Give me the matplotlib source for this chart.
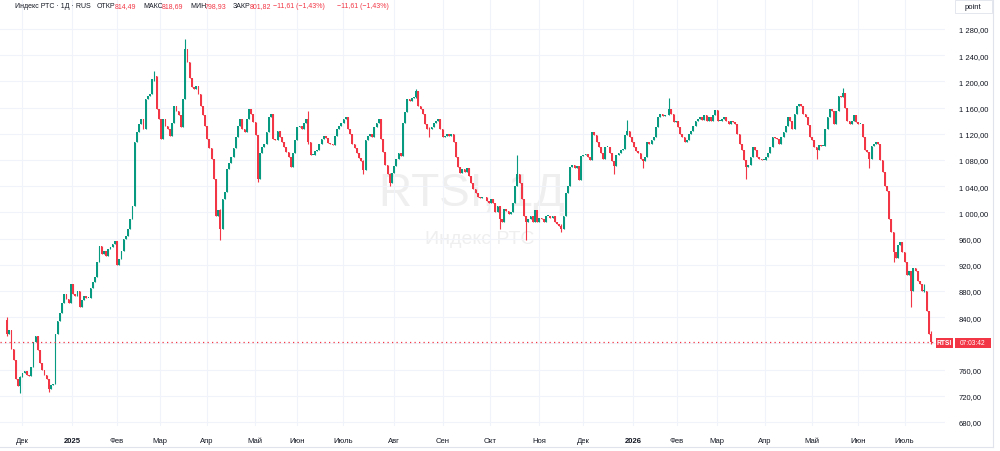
import numpy as np
import matplotlib.pyplot as plt
from matplotlib.patches import Rectangle

plt.rcParams['font.family'] = ['Liberation Sans', 'DejaVu Sans']

# daily closes of the RTS index (one per trading day)
first_open = 835
closes = [
    815, 820, 792, 775, 745, 735, 748, 755, 758, 752,
    750, 764, 802, 812, 790, 770, 760, 752, 745, 731,
    736, 738, 814, 834, 847, 862, 875, 868, 862, 890,
    876, 873, 880, 856, 866, 873, 870, 870, 885, 893,
    901, 924, 949, 936, 941, 934, 944, 947, 952, 957,
    920, 929, 941, 959, 964, 975, 990, 1010, 1107, 1122,
    1135, 1142, 1127, 1173, 1178, 1181, 1204, 1209, 1158, 1143,
    1112, 1143, 1132, 1127, 1117, 1137, 1163, 1155, 1148, 1130,
    1173, 1250, 1229, 1205, 1191, 1188, 1193, 1181, 1163, 1148,
    1132, 1112, 1099, 1081, 1051, 995, 1003, 975, 1020, 1031,
    1066, 1076, 1084, 1099, 1115, 1132, 1143, 1127, 1122, 1143,
    1158, 1150, 1138, 1118, 1051, 1090, 1100, 1105, 1122, 1145,
    1150, 1112, 1110, 1125, 1115, 1108, 1100, 1092, 1085, 1070,
    1090, 1110, 1130, 1132, 1128, 1137, 1142, 1107, 1088, 1088,
    1094, 1096, 1105, 1112, 1117, 1114, 1106, 1105, 1103, 1117,
    1127, 1132, 1137, 1143, 1145, 1128, 1120, 1105, 1098, 1090,
    1083, 1078, 1065, 1111, 1117, 1120, 1115, 1130, 1137, 1142,
    1112, 1092, 1072, 1058, 1045, 1060, 1071, 1081, 1091, 1086,
    1137, 1153, 1173, 1170, 1175, 1176, 1185, 1163, 1158, 1150,
    1135, 1128, 1127, 1130, 1137, 1140, 1143, 1127, 1115, 1117,
    1120, 1117, 1120, 1107, 1085, 1070, 1060, 1066, 1062, 1068,
    1055, 1045, 1035, 1030, 1024, 1022, 1023, 1024, 1018, 1015,
    1020, 1015, 1000, 1010, 990, 985, 1005, 1002, 998, 1000,
    1015, 1040, 1058, 1045, 1020, 995, 985, 990, 995, 985,
    1003, 985, 992, 990, 986, 995, 995, 992, 995, 985,
    982, 980, 975, 995, 1030, 1040, 1070, 1072, 1068, 1071,
    1050, 1086, 1088, 1089, 1085, 1080, 1122, 1118, 1108, 1100,
    1090, 1082, 1100, 1100, 1090, 1078, 1071, 1087, 1090, 1095,
    1097, 1118, 1125, 1115, 1108, 1100, 1093, 1090, 1082, 1078,
    1085, 1108, 1105, 1110, 1115, 1130, 1145, 1150, 1147, 1148,
    1148, 1158, 1150, 1138, 1140, 1130, 1120, 1115, 1108, 1110,
    1120, 1125, 1132, 1140, 1143, 1146, 1141, 1148, 1140, 1146,
    1140, 1148, 1157, 1140, 1140, 1143, 1145, 1140, 1135, 1140,
    1138, 1135, 1120, 1105, 1095, 1080, 1070, 1072, 1085, 1100,
    1095, 1085, 1082, 1080, 1080, 1085, 1090, 1100, 1115, 1113,
    1112, 1105, 1115, 1122, 1132, 1145, 1140, 1128, 1150, 1162,
    1165, 1163, 1150, 1145, 1133, 1115, 1110, 1100, 1095, 1103,
    1102, 1102, 1127, 1145, 1158, 1155, 1135, 1155, 1178, 1176,
    1183, 1160, 1140, 1135, 1140, 1148, 1138, 1135, 1135, 1115,
    1095, 1092, 1082, 1102, 1105, 1107, 1105, 1080, 1062, 1040,
    1032, 990, 970, 940, 930, 950, 955, 940, 925, 905,
    910, 880, 915, 910, 895, 890, 880, 880, 850, 814.49,
    801.82,
]

# candles with a visible shadow: index -> (high, low)
wicks = {
    0: (840, 812), 6: (750, 724), 19: (746, 726), 67: (1216, 1200),
    81: (1265, 1173), 97: (1005, 958), 114: (1118, 1047), 137: (1155, 1105),
    162: (1080, 1058), 174: (1060, 1041), 186: (1189, 1175), 192: (1130, 1115),
    224: (1010, 975), 232: (1088, 1040), 236: (995, 958), 252: (982, 970),
    276: (1078, 1059), 282: (1141, 1118), 289: (1082, 1068), 301: (1175, 1148),
    336: (1080, 1051), 368: (1100, 1082), 380: (1190, 1176), 392: (1092, 1068),
    403: (970, 925), 411: (910, 855), 417: (890, 878), 420: (818.69, 798.93),
}

month_pos = [6.8, 29.5, 50, 69.5, 91, 112.7, 132, 152.7, 176, 198,
             219.5, 242, 262, 284.5, 304.5, 322.7, 344.5, 366, 387, 408]
month_labels = ['Дек', '2025', 'Фев', 'Мар', 'Апр', 'Май', 'Июн', 'Июль', 'Авг', 'Сен',
                'Окт', 'Ноя', 'Дек', '2026', 'Фев', 'Мар', 'Апр', 'Май', 'Июн', 'Июль']

price_ticks = list(range(680, 1281, 40))
last_close = closes[-1]

UP = '#089981'
DOWN = '#f23645'
TXT = '#131722'

closes_arr = np.array(closes, dtype=float)
opens = np.concatenate([[first_open], closes_arr[:-1]])
idx = np.arange(len(closes_arr))
hi = np.maximum(opens, closes_arr)
lo = np.minimum(opens, closes_arr)
for k, (h, l) in wicks.items():
    hi[k] = max(hi[k], h)
    lo[k] = min(lo[k], l)
colors = np.where(closes_arr >= opens, UP, DOWN)

fig = plt.figure(figsize=(10, 4.52), dpi=100)
ax = fig.add_axes([0, 25 / 452, 945 / 1000, 427 / 452])
ax.set_xlim(-3.18, 426.4)
ax.set_ylim(673.9, 1325.8)

ax.vlines(idx, lo, hi, colors=colors, lw=0.8, zorder=2)
body = np.maximum(np.abs(closes_arr - opens), 0.8)
ax.bar(idx, body, bottom=np.minimum(opens, closes_arr),
       width=0.8, color=colors, linewidth=0, zorder=3)

ax.axhline(last_close, color=DOWN, lw=0.9, ls=(0, (1, 2.6)), zorder=4)

# watermark
ax.text(0.472, 1 - 194 / 452, 'RTSI, 1Д', transform=fig.transFigure, fontsize=33,
        color='#efefef', ha='center', va='center', zorder=0.5)
ax.text(0.480, 1 - 240 / 452, 'Индекс РТС', transform=fig.transFigure, fontsize=14,
        color='#efefef', ha='center', va='center', zorder=0.5)

ax.set_yticks(price_ticks)
ax.set_yticklabels(['' if v == 800 else f'{v:,.2f}'.replace(',', ' ').replace('.', ',')
                    for v in price_ticks])
ax.yaxis.tick_right()
ax.set_xticks(month_pos)
ax.set_xticklabels(month_labels)
ax.tick_params(axis='both', length=0, labelsize=5.5, labelcolor=TXT)
ax.tick_params(axis='y', pad=10)
ax.tick_params(axis='x', pad=8)
for lab in ax.get_xticklabels():
    if lab.get_text().isdigit():
        lab.set_fontweight('bold')
ax.grid(color='#f0f3fa', lw=0.8)
ax.set_axisbelow(True)
for s in ax.spines.values():
    s.set_visible(False)

# header line
header = [
    (15, 'Индекс РТС · 1Д · RUS', TXT), (97, 'ОТКР', TXT), (115, '814,49', DOWN),
    (143, 'МАКС', TXT), (162, '818,69', DOWN), (190, 'МИН', TXT), (205, '798,93', DOWN),
    (233, 'ЗАКР', TXT), (250, '801,82', DOWN), (273, '−11,61 (−1,43%)', DOWN),
    (337, '−11,61 (−1,43%)', DOWN),
]
for x, s, c in header:
    fig.text(x / 1000, 1 - 7 / 452, s, color=c, fontsize=5, va='center', ha='left')

# price axis extras
fig.add_artist(Rectangle((955 / 1000, 1 - 14 / 452), 37 / 1000, 13 / 452,
                         transform=fig.transFigure, fc='white', ec='#e0e3eb', lw=0.6))
fig.text(973 / 1000, 1 - 7.5 / 452, 'point', fontsize=5.5, color=TXT, ha='center', va='center')
ylab = 1 - 344 / 452
fig.add_artist(Rectangle((936 / 1000, ylab - 5 / 452), 17 / 1000, 10 / 452,
                         transform=fig.transFigure, fc=DOWN, ec='none'))
fig.text(944.5 / 1000, ylab, 'RTSI', fontsize=4.8, color='white', ha='center', va='center',
         fontweight='bold')
fig.add_artist(Rectangle((955 / 1000, ylab - 5 / 452), 36 / 1000, 10 / 452,
                         transform=fig.transFigure, fc=DOWN, ec='none'))
fig.text(973 / 1000, ylab, '07:03:42', fontsize=4.8, color='white', ha='center', va='center')

# outer frame of the chart widget
fig.add_artist(plt.Line2D([993 / 1000, 993 / 1000], [1 - 448 / 452, 1], transform=fig.transFigure,
                          color='#e0e3eb', lw=0.8))
fig.add_artist(plt.Line2D([0, 993 / 1000], [1 - 448 / 452, 1 - 448 / 452], transform=fig.transFigure,
                          color='#e0e3eb', lw=0.8))

fig.savefig('out.png', dpi=100)
